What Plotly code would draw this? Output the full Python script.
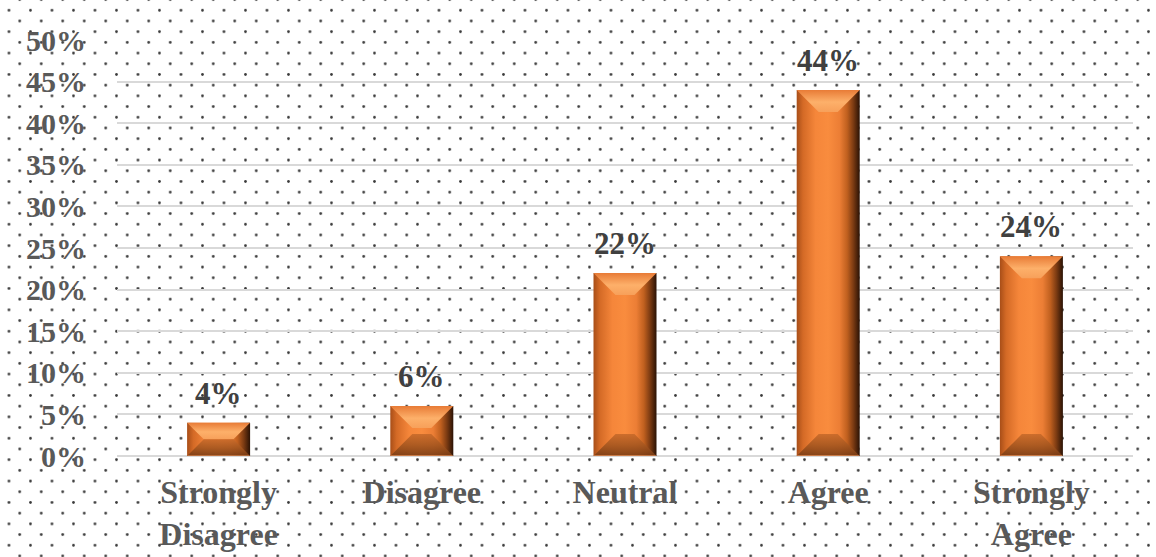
import urllib.parse
import plotly.graph_objects as go

# Survey response shares (percent)
categories = ["Strongly<br>Disagree", "Disagree", "Neutral", "Agree", "Strongly<br>Agree"]
values = [4, 6, 22, 44, 24]
y_ticks = [0, 5, 10, 15, 20, 25, 30, 35, 40, 45, 50]

W, H = 1156, 557
M_L, M_R, M_T, M_B = 117, 23, 40, 101
plot_w = W - M_L - M_R
plot_h = H - M_T - M_B
x_min, x_max = -0.5, len(categories) - 0.5
y_min, y_max = 0, 50
px_x = (x_max - x_min) / plot_w
px_y = (y_max - y_min) / plot_h

bar_w = 0.31
bevel_px = 22

FONT = "Liberation Serif"

fig = go.Figure()

front_scale = [
    [0.0, "#a84e18"], [0.1, "#d46a26"], [0.3, "#f5863a"], [0.5, "#f98c3e"],
    [0.68, "#ec7e35"], [0.8, "#c0601f"], [0.9, "#7a3a12"], [1.0, "#2a1205"],
]
top_scale = [[0.0, "#f7a05a"], [0.45, "#fdb06a"], [1.0, "#e87b36"]]
bottom_scale = [[0.0, "#f2a06a"], [0.06, "#7e3f16"], [0.5, "#a5561f"], [1.0, "#c86a2a"]]

for i, v in enumerate(values):
    xl, xr = i - bar_w / 2, i + bar_w / 2
    h_px = v / px_y
    d = min(bevel_px, h_px / 2)
    dx, dy = d * px_x, d * px_y

    # front face with horizontal shading
    fig.add_trace(go.Scatter(
        x=[xl, xr, xr, xl, xl], y=[0, 0, v, v, 0],
        mode="lines", line=dict(width=0), fill="toself",
        fillgradient=dict(type="horizontal", colorscale=front_scale, start=xl, stop=xr),
        hoverinfo="skip", showlegend=False,
    ))
    # top bevel
    fig.add_trace(go.Scatter(
        x=[xl, xr, xr - dx, xl + dx, xl], y=[v, v, v - dy, v - dy, v],
        mode="lines", line=dict(width=0), fill="toself",
        fillgradient=dict(type="vertical", colorscale=top_scale, start=v - dy, stop=v),
        hoverinfo="skip", showlegend=False,
    ))
    # bottom bevel
    fig.add_trace(go.Scatter(
        x=[xl, xr, xr - dx, xl + dx, xl], y=[0, 0, dy, dy, 0],
        mode="lines", line=dict(width=0), fill="toself",
        fillgradient=dict(type="vertical", colorscale=bottom_scale, start=0, stop=dy),
        opacity=0.9, hoverinfo="skip", showlegend=False,
    ))

for i, v in enumerate(values):
    fig.add_annotation(
        x=i, y=v, text=f"{v}%", showarrow=False, yanchor="bottom", yshift=10,
        font=dict(family=FONT, size=31, color="#404040", weight="bold"),
    )

# dotted background texture
tile_w, tile_h = 21.5, 21.4
svg = (
    f'<svg xmlns="http://www.w3.org/2000/svg" width="{W}" height="{H}" viewBox="0 0 {W} {H}">'
    f'<defs><pattern id="p" patternUnits="userSpaceOnUse" x="3.6" y="4.95" '
    f'width="{tile_w}" height="{tile_h}">'
    f'<circle cx="5.375" cy="5.35" r="1.35" fill="#3a3a3a"/>'
    f'<circle cx="16.125" cy="16.05" r="1.35" fill="#3a3a3a"/>'
    f'</pattern></defs><rect width="{W}" height="{H}" fill="#ffffff"/>'
    f'<rect width="{W}" height="{H}" fill="url(#p)"/></svg>'
)
fig.add_layout_image(
    source="data:image/svg+xml;charset=utf-8," + urllib.parse.quote(svg),
    xref="paper", yref="paper",
    x=-M_L / plot_w, y=1 + M_T / plot_h,
    sizex=W / plot_w, sizey=H / plot_h,
    xanchor="left", yanchor="top", sizing="stretch", layer="below",
)

fig.update_layout(
    width=W, height=H,
    margin=dict(l=M_L, r=M_R, t=M_T, b=M_B, autoexpand=False),
    paper_bgcolor="rgba(0,0,0,0)", plot_bgcolor="rgba(0,0,0,0)",
    showlegend=False,
    xaxis=dict(
        range=[x_min, x_max], tickmode="array", tickvals=list(range(len(categories))),
        ticktext=categories, showgrid=False, zeroline=False, showline=False,
        ticks="", ticklabelstandoff=14, automargin=False,
        tickfont=dict(family=FONT, size=32, color="#595959", weight="bold"),
    ),
    yaxis=dict(
        range=[y_min, y_max], tickmode="array", tickvals=y_ticks,
        ticktext=[f"{t}%" for t in y_ticks],
        showgrid=True, gridcolor="#d9d9d9", gridwidth=2,
        zeroline=True, zerolinecolor="#d9d9d9", zerolinewidth=2,
        showline=False, ticks="", ticklabelstandoff=30, automargin=False,
        tickfont=dict(family=FONT, size=30, color="#595959", weight="bold"),
    ),
)

fig.write_html("out.html")
